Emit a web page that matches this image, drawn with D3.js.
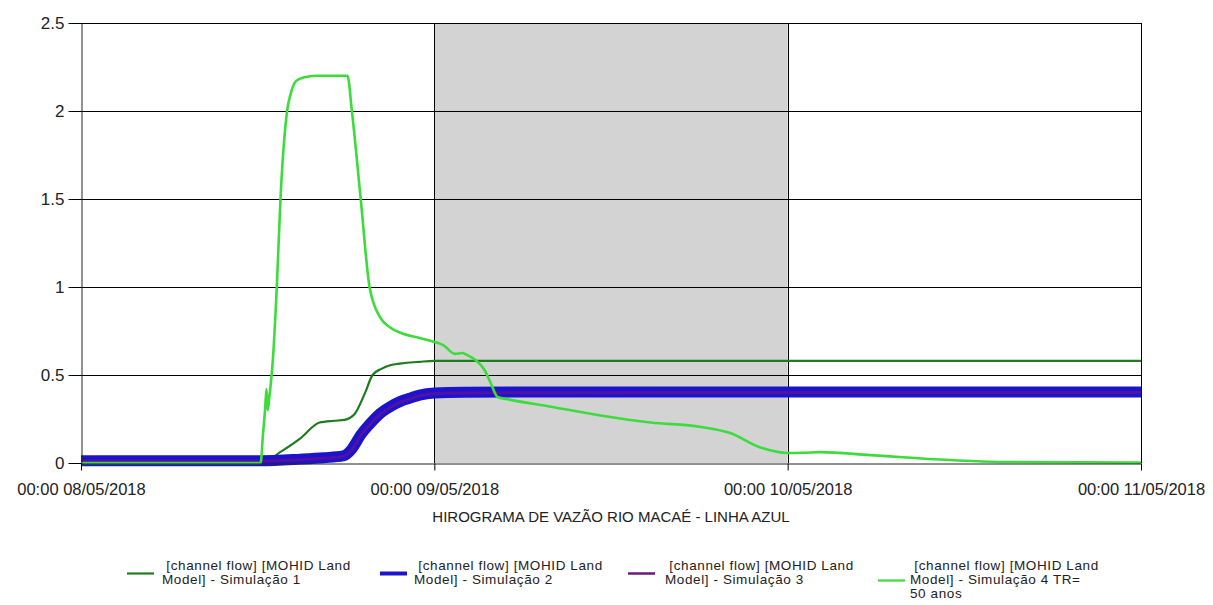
<!DOCTYPE html>
<html>
<head>
<meta charset="utf-8">
<script src="https://cdn.jsdelivr.net/npm/d3@7/dist/d3.min.js"></script>
<style>
  body { margin: 0; background: #fff; }
  text { font-family: "Liberation Sans", Arial, sans-serif; fill: #222; }
</style>
</head>
<body>
<svg id="chart" width="1213" height="605"></svg>
<script>
// ---- data (hours after 00:00 08/05/2018) ----
const startDate = new Date(2018, 4, 8, 0, 0);
const tickDays = [0, 1, 2, 3];
const yTicks = [0, 0.5, 1, 1.5, 2, 2.5];
const yTickLabels = ["0", "0.5", "1", "1.5", "2", "2.5"];
const shadeDays = [1, 2];

const hours1 = [0, 12.3, 13.5, 14.9, 16.2, 17.2, 17.9, 18.6, 19.3, 19.8, 20.4, 21.0, 22.0, 23.0, 24.0, 72];
const sim1   = [0, 0, 0.06, 0.14, 0.23, 0.24, 0.245, 0.28, 0.40, 0.50, 0.535, 0.555, 0.568, 0.575, 0.58, 0.58];

const hours2 = [0, 12.2, 14.9, 16.5, 17.8, 18.4, 19.0, 19.6, 20.3, 21.0, 21.7, 22.4, 23.0, 24.0, 26, 30, 45, 72];
const sim2   = [0.013, 0.013, 0.022, 0.03, 0.04, 0.08, 0.16, 0.22, 0.28, 0.32, 0.35, 0.37, 0.386, 0.398, 0.402, 0.403, 0.404, 0.404];
const sim3   = [0.011, 0.011, 0.019, 0.027, 0.037, 0.076, 0.155, 0.215, 0.275, 0.315, 0.346, 0.366, 0.382, 0.394, 0.398, 0.399, 0.4, 0.4];

const hours4 = [0, 12.2, 12.35, 12.5, 12.6, 12.68, 12.8, 13.0, 13.3, 13.55, 14.0, 14.25, 14.6, 15.1, 16, 17, 18.1, 18.4, 19.0, 19.6, 20.3, 21.0, 21.7, 23.0, 23.9, 24.6, 25.4, 25.9, 26.3, 26.8, 27.4, 27.8, 28.3, 29.1, 31.9, 35.3, 38.7, 42.1, 44.1, 46.1, 48.0, 49.0, 50.2, 53.6, 59.0, 62.4, 72];
const sim4   = [0, 0, 0.15, 0.3, 0.42, 0.3, 0.38, 0.55, 1.0, 1.5, 2.0, 2.1, 2.17, 2.19, 2.2, 2.2, 2.2, 2.0, 1.5, 1.0, 0.83, 0.77, 0.74, 0.71, 0.69, 0.67, 0.62, 0.625, 0.61, 0.585, 0.53, 0.46, 0.375, 0.36, 0.32, 0.27, 0.23, 0.205, 0.17, 0.09, 0.057, 0.058, 0.062, 0.045, 0.017, 0.006, 0.002];

const legendLabels = [
  [" [channel flow] [MOHID Land", "Model] - Simulação 1"],
  [" [channel flow] [MOHID Land", "Model] - Simulação 2"],
  [" [channel flow] [MOHID Land", "Model] - Simulação 3"],
  [" [channel flow] [MOHID Land", "Model] - Simulação 4 TR=", "50 anos"]
];
const xTitle = "HIROGRAMA DE VAZÃO RIO MACAÉ - LINHA AZUL";

// ---- layout ----
const svg = d3.select("#chart");
const L = 81, T = 23, R = 1141, B = 463;
const toDate = h => new Date(startDate.getTime() + h * 3600 * 1000);

const x = d3.scaleTime().domain([toDate(0), toDate(72)]).range([L, R]);
const y = d3.scaleLinear().domain([0, 2.5]).range([B, T]);

// shaded band
svg.append("rect")
  .attr("x", x(toDate(shadeDays[0] * 24)))
  .attr("y", T)
  .attr("width", x(toDate(shadeDays[1] * 24)) - x(toDate(shadeDays[0] * 24)))
  .attr("height", B - T)
  .attr("fill", "#d3d3d3");

// horizontal grid
svg.append("g").selectAll("line").data(yTicks.filter(v => v > 0)).join("line")
  .attr("x1", L).attr("x2", R)
  .attr("y1", d => Math.round(y(d)) + 0.5).attr("y2", d => Math.round(y(d)) + 0.5)
  .attr("stroke", "#000").attr("stroke-width", 1);

// vertical grid
svg.append("g").selectAll("line").data(tickDays.filter(d => d > 0)).join("line")
  .attr("x1", d => Math.round(x(toDate(d * 24))) + 0.5).attr("x2", d => Math.round(x(toDate(d * 24))) + 0.5)
  .attr("y1", T).attr("y2", B)
  .attr("stroke", "#000").attr("stroke-width", 1);

// lines
const line = (hrs) => d3.line()
  .x((d, i) => x(toDate(hrs[i])))
  .y(d => y(d))
  .curve(d3.curveMonotoneX);

svg.append("path").datum(sim1).attr("d", line(hours1))
  .attr("fill", "none").attr("stroke", "#1e7b1e").attr("stroke-width", 2.2);
svg.append("path").datum(sim2).attr("d", line(hours2))
  .attr("fill", "none").attr("stroke", "#1c14cc").attr("stroke-width", 11);
svg.append("path").datum(sim3).attr("d", line(hours2))
  .attr("fill", "none").attr("stroke", "#6a1090").attr("stroke-width", 3).attr("stroke-opacity", 0.7);
svg.append("path").datum(sim4).attr("d", line(hours4))
  .attr("fill", "none").attr("stroke", "#3cdc3c").attr("stroke-width", 2.6);

// axes
const xAxis = d3.axisBottom(x)
  .tickValues(tickDays.map(d => toDate(d * 24)))
  .tickFormat(d3.timeFormat("%H:%M %d/%m/%Y"))
  .tickSize(7).tickSizeOuter(0);
const gx = svg.append("g").attr("transform", `translate(0,${B + 0.5})`).call(xAxis);
gx.selectAll("text").attr("font-size", 16.5).attr("dy", "1.3em").style("font-family", '"Liberation Sans", Arial, sans-serif').attr("fill", "#222");
gx.select(".domain").attr("stroke", "#222");

const yAxis = d3.axisLeft(y)
  .tickValues(yTicks)
  .tickFormat((d, i) => yTickLabels[i])
  .tickSize(13).tickSizeOuter(0);
const gy = svg.append("g").attr("transform", `translate(${L + 0.5},0)`).call(yAxis);
gy.selectAll("text").attr("font-size", 17).attr("x", -17).style("font-family", '"Liberation Sans", Arial, sans-serif').attr("fill", "#222");
gy.select(".domain").attr("stroke", "#222");

// x title
svg.append("text")
  .attr("x", (L + R) / 2).attr("y", 522)
  .attr("text-anchor", "middle").attr("font-size", 15)
  .text(xTitle);

// legend
const legColors = ["#1e7b1e", "#1c14cc", "#6a1a7a", "#3cdc3c"];
const legWidths = [2.2, 4, 2.5, 2.2];
const legLineX = [127, 380, 628, 878];
const legTextX = [162, 414, 665, 910];
const lineGap = 14;
const legTop = 570;
const lg = svg.append("g");
legendLabels.forEach((lines, i) => {
  const nl = lines.length;
  const ly = legTop - 4 + (nl - 1) * lineGap / 2 + 0.5;
  lg.append("line")
    .attr("x1", legLineX[i]).attr("x2", legLineX[i] + 27)
    .attr("y1", ly).attr("y2", ly)
    .attr("stroke", legColors[i]).attr("stroke-width", legWidths[i]);
  lines.forEach((s, j) => {
    lg.append("text").attr("font-size", 13.5).style("white-space", "pre")
      .attr("letter-spacing", 0.6)
      .attr("x", legTextX[i]).attr("y", legTop + j * lineGap).text(s);
  });
});
</script>
</body>
</html>
